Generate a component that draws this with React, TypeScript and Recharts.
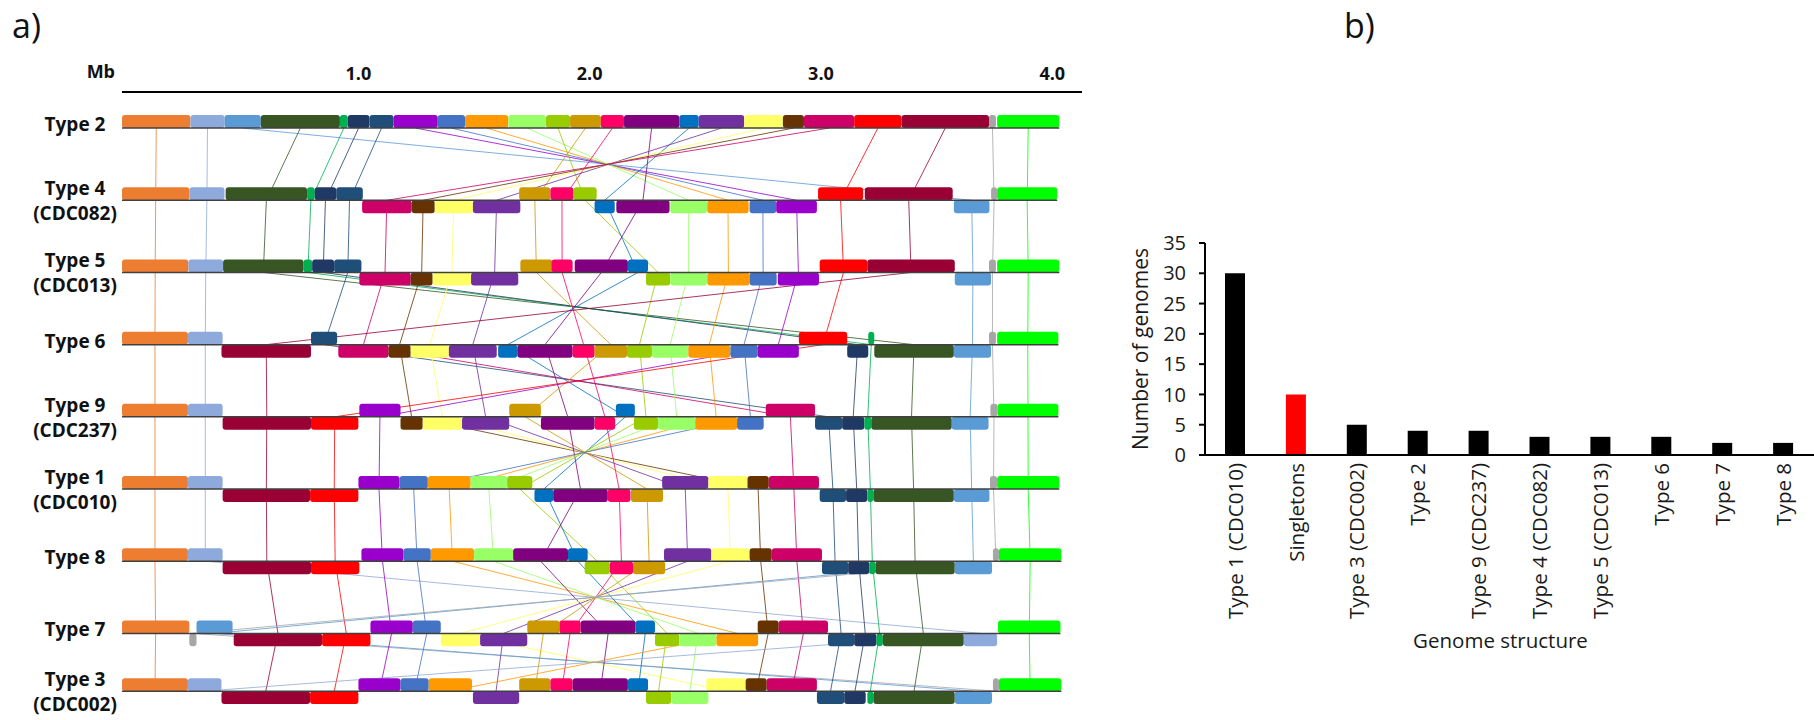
import {
  ComposedChart,
  BarChart,
  Bar,
  Cell,
  Scatter,
  XAxis,
  YAxis,
  ReferenceArea,
  ReferenceLine,
} from 'recharts';

type Lane = 'u' | 'd';
type Block = [string, number, number, Lane];

const FONT = "'Open Sans', sans-serif";

// ---- panel a: syntenic blocks per genome structure (positions in Mb) ----
const ROW_NAMES = ['Type 2', 'Type 4', 'Type 5', 'Type 6', 'Type 9', 'Type 1', 'Type 8', 'Type 7', 'Type 3'];
const ROW_STRAINS = ['', '(CDC082)', '(CDC013)', '', '(CDC237)', '(CDC010)', '', '', '(CDC002)'];
const MB_TICKS = [1, 2, 3, 4];

const BLOCK_COLORS: Record<string, string> = {
  or: '#ED7D31', lb: '#8EA9DB', sb: '#5B9BD5', dg: '#375623', gr: '#00B050', nv: '#203864',
  db: '#1F4E79', vi: '#9900CC', bl: '#4472C4', or2: '#FF9900', lg: '#99FF66', yg: '#99CC00',
  gd: '#CC9900', pk: '#FF0066', pu: '#800080', b2: '#0070C0', p2: '#7030A0', ye: '#FFFF66',
  br: '#663300', mg: '#CC0066', rd: '#FF0000', mr: '#990033', gy: '#A6A6A6', lime: '#00FF00',
};

const TYPE2: Block[] = [
  ['or', 0, 0.296, 'u'], ['lb', 0.296, 0.443, 'u'], ['sb', 0.443, 0.6, 'u'], ['dg', 0.6, 0.942, 'u'],
  ['gr', 0.942, 0.976, 'u'], ['nv', 0.976, 1.07, 'u'], ['db', 1.07, 1.174, 'u'], ['vi', 1.174, 1.365, 'u'],
  ['bl', 1.365, 1.483, 'u'], ['or2', 1.483, 1.67, 'u'], ['lg', 1.67, 1.833, 'u'], ['yg', 1.833, 1.937, 'u'],
  ['gd', 1.937, 2.07, 'u'], ['pk', 2.07, 2.17, 'u'], ['pu', 2.17, 2.409, 'u'], ['b2', 2.409, 2.493, 'u'],
  ['p2', 2.493, 2.69, 'u'], ['ye', 2.69, 2.857, 'u'], ['br', 2.857, 2.948, 'u'], ['mg', 2.948, 3.165, 'u'],
  ['rd', 3.165, 3.37, 'u'], ['mr', 3.37, 3.748, 'u'], ['gy', 3.748, 3.778, 'u'], ['lime', 3.783, 4.052, 'u'],
];

const TYPE4: Block[] = [
  ['or', 0, 0.291, 'u'], ['lb', 0.291, 0.443, 'u'], ['dg', 0.448, 0.8, 'u'], ['gr', 0.8, 0.833, 'u'],
  ['nv', 0.833, 0.926, 'u'], ['db', 0.926, 1.041, 'u'], ['mg', 1.038, 1.252, 'd'], ['br', 1.252, 1.352, 'd'],
  ['ye', 1.352, 1.517, 'd'], ['p2', 1.517, 1.722, 'd'], ['gd', 1.717, 1.852, 'u'], ['pk', 1.852, 1.952, 'u'],
  ['yg', 1.952, 2.052, 'u'], ['b2', 2.043, 2.13, 'd'], ['pu', 2.137, 2.367, 'd'], ['lg', 2.37, 2.529, 'd'],
  ['or2', 2.53, 2.709, 'd'], ['bl', 2.713, 2.828, 'd'], ['vi', 2.828, 3.004, 'd'], ['rd', 3.009, 3.204, 'u'],
  ['mr', 3.211, 3.591, 'u'], ['sb', 3.596, 3.75, 'd'], ['gy', 3.757, 3.783, 'u'], ['lime', 3.783, 4.043, 'u'],
];

const TYPE5: Block[] = [
  ['or', 0, 0.287, 'u'], ['lb', 0.287, 0.437, 'u'], ['dg', 0.437, 0.785, 'u'], ['gr', 0.785, 0.822, 'u'],
  ['nv', 0.822, 0.917, 'u'], ['db', 0.917, 1.035, 'u'], ['mg', 1.026, 1.248, 'd'], ['br', 1.248, 1.343, 'd'],
  ['ye', 1.343, 1.509, 'd'], ['p2', 1.509, 1.713, 'd'], ['gd', 1.722, 1.861, 'u'], ['pk', 1.857, 1.948, 'u'],
  ['pu', 1.957, 2.187, 'u'], ['b2', 2.187, 2.274, 'u'], ['yg', 2.265, 2.37, 'd'], ['lg', 2.37, 2.529, 'd'],
  ['or2', 2.53, 2.713, 'd'], ['bl', 2.713, 2.83, 'd'], ['vi', 2.835, 3.013, 'd'], ['rd', 3.016, 3.222, 'u'],
  ['mr', 3.222, 3.6, 'u'], ['sb', 3.6, 3.757, 'd'], ['gy', 3.748, 3.778, 'u'], ['lime', 3.783, 4.052, 'u'],
];

const TYPE6: Block[] = [
  ['or', 0, 0.285, 'u'], ['lb', 0.285, 0.435, 'u'], ['mr', 0.43, 0.817, 'd'], ['db', 0.817, 0.93, 'u'],
  ['mg', 0.935, 1.152, 'd'], ['br', 1.152, 1.248, 'd'], ['ye', 1.248, 1.413, 'd'], ['p2', 1.413, 1.62, 'd'],
  ['b2', 1.626, 1.709, 'd'], ['pu', 1.709, 1.948, 'd'], ['pk', 1.948, 2.043, 'd'], ['gd', 2.043, 2.183, 'd'],
  ['yg', 2.183, 2.291, 'd'], ['lg', 2.291, 2.448, 'd'], ['or2', 2.448, 2.629, 'd'], ['bl', 2.63, 2.748, 'd'],
  ['vi', 2.748, 2.926, 'd'], ['rd', 2.926, 3.135, 'u'], ['nv', 3.135, 3.226, 'd'], ['gr', 3.226, 3.252, 'u'],
  ['dg', 3.252, 3.596, 'd'], ['sb', 3.596, 3.757, 'd'], ['gy', 3.748, 3.778, 'u'], ['lime', 3.783, 4.048, 'u'],
];

const TYPE9: Block[] = [
  ['or', 0, 0.285, 'u'], ['lb', 0.285, 0.435, 'u'], ['mr', 0.435, 0.817, 'd'], ['rd', 0.817, 1.022, 'd'],
  ['vi', 1.026, 1.204, 'u'], ['br', 1.204, 1.3, 'd'], ['ye', 1.3, 1.47, 'd'], ['p2', 1.47, 1.674, 'd'],
  ['gd', 1.674, 1.811, 'u'], ['pu', 1.811, 2.043, 'd'], ['pk', 2.043, 2.132, 'd'], ['b2', 2.135, 2.217, 'u'],
  ['yg', 2.213, 2.317, 'd'], ['lg', 2.317, 2.478, 'd'], ['or2', 2.478, 2.659, 'd'], ['bl', 2.659, 2.774, 'd'],
  ['mg', 2.783, 2.996, 'u'], ['db', 2.996, 3.113, 'd'], ['nv', 3.113, 3.209, 'd'], ['gr', 3.209, 3.239, 'd'],
  ['dg', 3.239, 3.587, 'd'], ['sb', 3.587, 3.746, 'd'], ['gy', 3.754, 3.785, 'u'], ['lime', 3.785, 4.048, 'u'],
];

const TYPE1: Block[] = [
  ['or', 0, 0.285, 'u'], ['lb', 0.285, 0.435, 'u'], ['mr', 0.435, 0.813, 'd'], ['rd', 0.813, 1.022, 'd'],
  ['vi', 1.022, 1.2, 'u'], ['bl', 1.2, 1.322, 'u'], ['or2', 1.322, 1.507, 'u'], ['lg', 1.507, 1.665, 'u'],
  ['yg', 1.665, 1.774, 'u'], ['b2', 1.783, 1.864, 'd'], ['pu', 1.864, 2.1, 'd'], ['pk', 2.1, 2.198, 'd'],
  ['gd', 2.2, 2.339, 'd'], ['p2', 2.335, 2.535, 'u'], ['ye', 2.535, 2.704, 'u'], ['br', 2.704, 2.796, 'u'],
  ['mg', 2.796, 3.013, 'u'], ['db', 3.016, 3.13, 'd'], ['nv', 3.13, 3.222, 'd'], ['gr', 3.222, 3.248, 'd'],
  ['dg', 3.248, 3.596, 'd'], ['sb', 3.596, 3.75, 'd'], ['gy', 3.752, 3.783, 'u'], ['lime', 3.783, 4.052, 'u'],
];

const TYPE8: Block[] = [
  ['or', 0, 0.285, 'u'], ['lb', 0.285, 0.435, 'u'], ['mr', 0.435, 0.817, 'd'], ['rd', 0.817, 1.026, 'd'],
  ['vi', 1.035, 1.217, 'u'], ['bl', 1.217, 1.335, 'u'], ['or2', 1.335, 1.522, 'u'], ['lg', 1.522, 1.691, 'u'],
  ['pu', 1.691, 1.928, 'u'], ['b2', 1.928, 2.013, 'u'], ['yg', 2.0, 2.109, 'd'], ['pk', 2.109, 2.209, 'd'],
  ['gd', 2.209, 2.348, 'd'], ['p2', 2.343, 2.548, 'u'], ['ye', 2.548, 2.713, 'u'], ['br', 2.713, 2.809, 'u'],
  ['mg', 2.809, 3.026, 'u'], ['db', 3.026, 3.139, 'd'], ['nv', 3.139, 3.23, 'd'], ['gr', 3.23, 3.257, 'd'],
  ['dg', 3.257, 3.6, 'd'], ['sb', 3.6, 3.761, 'd'], ['gy', 3.765, 3.791, 'u'], ['lime', 3.791, 4.061, 'u'],
];

const TYPE7: Block[] = [
  ['or', 0, 0.291, 'u'], ['gy', 0.291, 0.322, 'd'], ['sb', 0.322, 0.478, 'u'], ['mr', 0.483, 0.865, 'd'],
  ['rd', 0.865, 1.074, 'd'], ['vi', 1.074, 1.257, 'u'], ['bl', 1.257, 1.378, 'u'], ['ye', 1.378, 1.548, 'd'],
  ['p2', 1.548, 1.752, 'd'], ['gd', 1.752, 1.891, 'u'], ['pk', 1.891, 1.983, 'u'], ['pu', 1.983, 2.22, 'u'],
  ['b2', 2.22, 2.304, 'u'], ['yg', 2.304, 2.409, 'd'], ['lg', 2.409, 2.57, 'd'], ['or2', 2.57, 2.75, 'd'],
  ['br', 2.748, 2.839, 'u'], ['mg', 2.839, 3.052, 'u'], ['db', 3.052, 3.165, 'd'], ['nv', 3.165, 3.261, 'd'],
  ['gr', 3.261, 3.289, 'd'], ['dg', 3.289, 3.639, 'd'], ['lb', 3.639, 3.783, 'd'], ['lime', 3.787, 4.057, 'u'],
];

const TYPE3: Block[] = [
  ['or', 0, 0.285, 'u'], ['lb', 0.285, 0.43, 'u'], ['mr', 0.43, 0.813, 'd'], ['rd', 0.813, 1.022, 'd'],
  ['vi', 1.022, 1.204, 'u'], ['bl', 1.204, 1.326, 'u'], ['or2', 1.326, 1.513, 'u'], ['p2', 1.517, 1.717, 'd'],
  ['gd', 1.717, 1.852, 'u'], ['pk', 1.852, 1.948, 'u'], ['pu', 1.948, 2.187, 'u'], ['b2', 2.187, 2.274, 'u'],
  ['yg', 2.265, 2.374, 'd'], ['lg', 2.374, 2.535, 'd'], ['ye', 2.526, 2.696, 'u'], ['br', 2.696, 2.787, 'u'],
  ['mg', 2.787, 3.004, 'u'], ['db', 3.004, 3.122, 'd'], ['nv', 3.122, 3.215, 'd'], ['gr', 3.222, 3.248, 'd'],
  ['dg', 3.248, 3.6, 'd'], ['sb', 3.6, 3.761, 'd'], ['gy', 3.765, 3.791, 'u'], ['lime', 3.791, 4.061, 'u'],
];

const ROWS: Block[][] = [TYPE2, TYPE4, TYPE5, TYPE6, TYPE9, TYPE1, TYPE8, TYPE7, TYPE3];

// ---- panel b: number of genomes per structure ----
const STRUCTURES = [
  'Type 1 (CDC010)', 'Singletons', 'Type 3 (CDC002)', 'Type 2', 'Type 9 (CDC237)',
  'Type 4 (CDC082)', 'Type 5 (CDC013)', 'Type 6', 'Type 7', 'Type 8',
];
const GENOME_COUNTS = [30, 10, 5, 4, 4, 3, 3, 3, 2, 2];
const COUNT_TICKS = [0, 5, 10, 15, 20, 25, 30, 35];

// track layout (y units, reversed axis) and block thickness
const TRACK_Y = [0, 1, 2, 3, 4, 5, 6, 7, 7.8];
const BLOCK_H = 0.18;

const rects = ROWS.flatMap((row, r) =>
  row.map(([id, s, e, lane]) => ({
    key: `${r}-${id}`,
    x1: s,
    x2: e,
    y1: lane === 'u' ? TRACK_Y[r] - BLOCK_H : TRACK_Y[r],
    y2: lane === 'u' ? TRACK_Y[r] : TRACK_Y[r] + BLOCK_H,
    color: BLOCK_COLORS[id],
  }))
);

const links = ROWS.slice(0, -1).flatMap((row, r) =>
  row
    .map(([id, s, e]) => {
      const next = ROWS[r + 1].find((b) => b[0] === id);
      if (!next) return null;
      return {
        key: `${r}-${id}`,
        color: BLOCK_COLORS[id],
        seg: [
          { x: (s + e) / 2, y: TRACK_Y[r] },
          { x: (next[1] + next[2]) / 2, y: TRACK_Y[r + 1] },
        ],
      };
    })
    .filter(Boolean) as { key: string; color: string; seg: { x: number; y: number }[] }[]
);

// one entry per track: start of the chromosome line and its end
const baselines = ROWS.map((row, r) => ({
  key: `base-${r}`,
  x: 0,
  end: Math.max(...row.map((b) => b[2])),
  y: TRACK_Y[r],
}));

const barData = STRUCTURES.map((s, i) => ({ structure: s, count: GENOME_COUNTS[i] }));

function RowLabel(props: any) {
  const { y, payload } = props;
  const i = TRACK_Y.indexOf(payload.value);
  const strain = ROW_STRAINS[i];
  const common = { x: 75, textAnchor: 'middle' as const, fontSize: 19, fontWeight: 700, fontFamily: FONT, fill: '#111' };
  if (!strain) {
    return <text {...common} y={y + 3}>{ROW_NAMES[i]}</text>;
  }
  return (
    <g>
      <text {...common} y={y - 5}>{ROW_NAMES[i]}</text>
      <text {...common} y={y + 20}>{strain}</text>
    </g>
  );
}

function StructureTick(props: any) {
  const { x, payload } = props;
  return (
    <g transform={`translate(${x},${463})`}>
      <text transform="rotate(-90)" textAnchor="end" dy="0.35em" fontSize={20.5} fontFamily={FONT} fill="#1a1a1a">
        {payload.value}
      </text>
    </g>
  );
}

const panelLabel = { position: 'absolute' as const, top: 8, fontSize: 34, lineHeight: '34px', fontFamily: FONT, color: '#111' };

export default function App() {
  return (
    <div style={{ position: 'absolute', left: 0, top: 0, width: 1814, height: 720, background: '#fff' }}>
      <div style={{ ...panelLabel, left: 12 }}>a)</div>
      <div style={{ ...panelLabel, left: 1344 }}>b)</div>

      <div style={{ position: 'absolute', left: 0, top: 0 }}>
        <ComposedChart width={1100} height={720} data={baselines} margin={{ top: 52, right: 18, bottom: 0, left: 0 }}>
          <XAxis
            type="number"
            dataKey="x"
            orientation="top"
            domain={[0, 4.15]}
            ticks={MB_TICKS}
            allowDataOverflow
            height={40}
            tickLine={false}
            tickSize={0}
            tickMargin={12}
            axisLine={{ stroke: '#000', strokeWidth: 2 }}
            tickFormatter={(v: number) => v.toFixed(1)}
            tick={{ fontSize: 18, fontWeight: 700, fontFamily: FONT, fill: '#111', dx: 5 }}
            label={{ value: 'Mb', position: 'left', offset: 7, fontSize: 18, fontWeight: 700, fontFamily: FONT, fill: '#111' }}
          />
          <YAxis
            type="number"
            dataKey="y"
            domain={[-0.5, 8.2]}
            reversed
            allowDataOverflow
            ticks={TRACK_Y}
            interval={0}
            width={122}
            axisLine={false}
            tickLine={false}
            tick={(p: any) => <RowLabel {...p} />}
          />
          <Scatter data={baselines} dataKey="y" fill="none" shape={() => <g />} isAnimationActive={false} />
          {links.map((l) => (
            <ReferenceLine
              key={l.key}
              segment={l.seg}
              stroke={l.color}
              strokeWidth={1}
              strokeOpacity={0.8}
              ifOverflow="visible"
              zIndex={50}
            />
          ))}
          {rects.map((b) => (
            <ReferenceArea
              key={b.key}
              x1={b.x1}
              x2={b.x2}
              y1={b.y1}
              y2={b.y2}
              fill={b.color}
              fillOpacity={1}
              stroke="none"
              radius={3}
              ifOverflow="visible"
              zIndex={100}
            />
          ))}
          {baselines.map((b) => (
            <ReferenceLine
              key={b.key}
              segment={[{ x: 0, y: b.y }, { x: b.end, y: b.y }]}
              stroke="#404040"
              strokeWidth={1.5}
              ifOverflow="visible"
              zIndex={150}
            />
          ))}
        </ComposedChart>
      </div>

      <div style={{ position: 'absolute', left: 1100, top: 0 }}>
        <BarChart width={714} height={720} data={barData} margin={{ top: 243, right: 0, bottom: 0, left: 0 }}>
          <XAxis
            dataKey="structure"
            interval={0}
            height={265}
            tickLine={false}
            axisLine={{ stroke: '#000', strokeWidth: 2 }}
            tick={(p: any) => <StructureTick {...p} />}
            label={{
              content: (p: any) => {
                const vb = p.viewBox || { x: 105, y: 455, width: 609 };
                return (
                  <text x={vb.x + vb.width / 2 - 9} y={vb.y + 193} textAnchor="middle" fontSize={20.5} fontFamily={FONT} fill="#1a1a1a">
                    Genome structure
                  </text>
                );
              },
            }}
          />
          <YAxis
            domain={[0, 35]}
            ticks={COUNT_TICKS}
            interval={0}
            width={105}
            axisLine={{ stroke: '#000', strokeWidth: 2 }}
            tickLine={{ stroke: '#000', strokeWidth: 2 }}
            tickSize={6}
            tickMargin={13}
            tick={{ fontSize: 20, fontFamily: FONT, fill: '#1a1a1a' }}
            label={{
              content: (p: any) => {
                const vb = p.viewBox || { y: 243, height: 212 };
                const cy = vb.y + vb.height / 2;
                return (
                  <text x={40} y={cy} transform={`rotate(-90 40 ${cy})`} textAnchor="middle" dominantBaseline="central" fontSize={21} fontFamily={FONT} fill="#1a1a1a">
                    Number of genomes
                  </text>
                );
              },
            }}
          />
          <Bar dataKey="count" barSize={20} isAnimationActive={false}>
            {barData.map((d) => (
              <Cell key={d.structure} fill={d.structure === 'Singletons' ? '#FF0000' : '#000'} />
            ))}
          </Bar>
        </BarChart>
      </div>
    </div>
  );
}
